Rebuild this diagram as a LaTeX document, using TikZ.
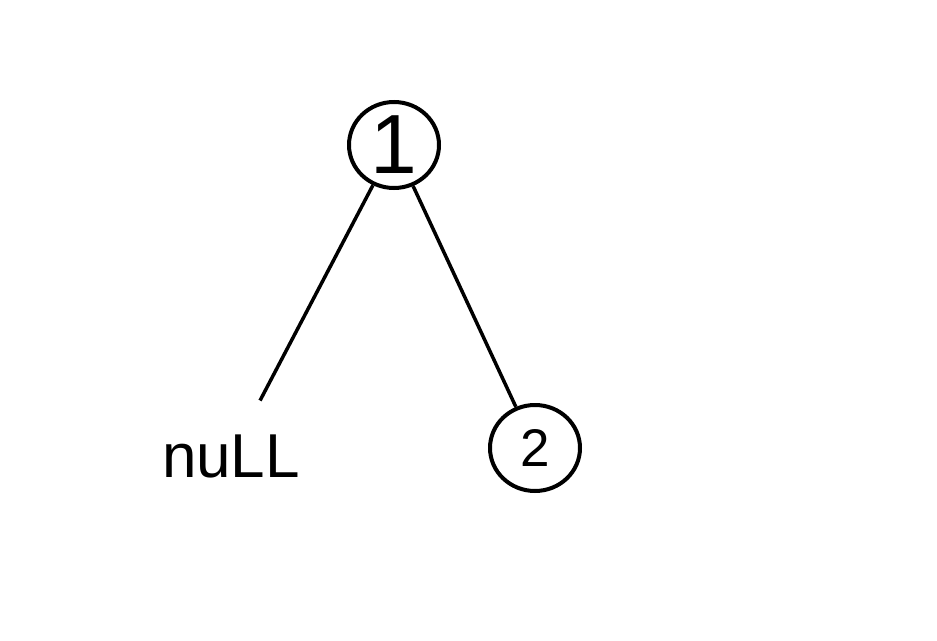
\documentclass[tikz,border=0pt]{standalone}
\usepackage{fontspec}
\setmainfont{Liberation Sans}
\usetikzlibrary{shapes.geometric}
\begin{document}
\begin{tikzpicture}[x=1pt,y=-1pt,
  treenode/.style={draw,line width=4pt,ellipse,minimum width=90pt,minimum height=86pt,inner sep=0pt},
  edge/.style={line width=3.5pt}]
\useasboundingbox (0,0) rectangle (937,640);
\node[treenode,font={\fontsize{84}{84}\selectfont}] (n1) at (394,145) {1};
\node[treenode,font={\fontsize{53}{53}\selectfont}] (n2) at (535,448) {2};
\node[font={\fontsize{62}{62}\selectfont},inner sep=0pt] (nul) at (231,456) {nuLL};
\draw[edge] (n1) -- (n2);
\draw[edge,shorten >=38pt] (n1) -- (nul);
\end{tikzpicture}
\end{document}
